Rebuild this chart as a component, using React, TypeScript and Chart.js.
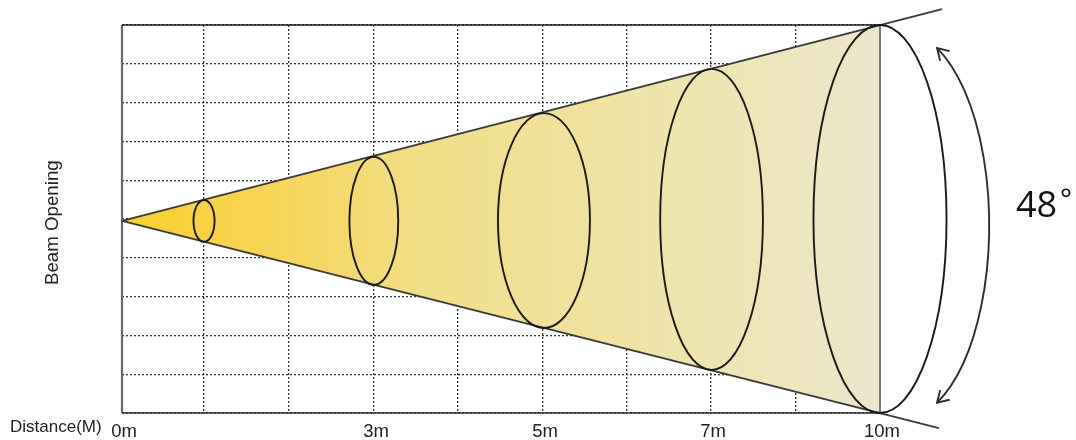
import React, { useEffect, useRef } from "react";
import { Chart, registerables } from "chart.js";

Chart.register(...registerables);

const tickLabels = ["0m", "", "", "3m", "", "5m", "", "7m", "", "10m"];
const tickValues = [0, 0.974, 1.983, 2.992, 3.99, 5, 5.996, 6.994, 8, 9];
const xRange = [0, 9];
const yRange = [-5, 5];

const apex = { x: 0, y: -0.05 };
const upperRayEnd = { x: 9.736, y: 5.41 };
const lowerRayEnd = { x: 9.7, y: -5.39 };
const coneEdgeTop = { x: 9, y: 5 };
const coneEdgeBottom = { x: 9, y: -5 };

const ringCentersX = [0.974, 2.99, 5.01, 7.0, 9];
const ringCentersY = [-0.05, -0.05, -0.04, -0.01, 0];
const ringHalfWidths = [0.125, 0.29, 0.546, 0.61, 0.79];
const ringHalfHeights = [0.54, 1.65, 2.77, 3.88, 5];

const sweepCenter = { x: 9.24, y: -0.165 };
const sweepRadii = { x: 1.057, y: 5.02 };
const sweepEndAngle = 1.144;

const angleValue = "48";
const angleUnit = "°";
const distanceTitle = "Distance(M)";
const openingTitle = "Beam Opening";

const annotations = {
  id: "annotations",
  afterDatasetsDraw(chart: any) {
    const { ctx, scales } = chart;
    const { x, y } = scales;
    const pxPerX = x.getPixelForValue(1) - x.getPixelForValue(0);
    const pxPerY = y.getPixelForValue(0) - y.getPixelForValue(1);
    ctx.save();

    ctx.strokeStyle = "#1a1a1a";
    ctx.lineWidth = 1.9;
    ringCentersX.forEach((cx, i) => {
      ctx.beginPath();
      ctx.ellipse(
        x.getPixelForValue(cx),
        y.getPixelForValue(ringCentersY[i]),
        ringHalfWidths[i] * pxPerX,
        ringHalfHeights[i] * pxPerY,
        0,
        0,
        Math.PI * 2
      );
      ctx.stroke();
    });

    const scx = x.getPixelForValue(sweepCenter.x);
    const scy = y.getPixelForValue(sweepCenter.y);
    const rx = sweepRadii.x * pxPerX;
    const ry = sweepRadii.y * pxPerY;
    ctx.strokeStyle = "#2e2e2e";
    ctx.lineWidth = 1.9;
    ctx.beginPath();
    ctx.ellipse(scx, scy, rx, ry, 0, -sweepEndAngle, sweepEndAngle);
    ctx.stroke();

    [-1, 1].forEach((side) => {
      const a = side * sweepEndAngle;
      const tx = scx + rx * Math.cos(a);
      const ty = scy + ry * Math.sin(a);
      const dir = Math.atan2(side * ry * Math.cos(a), -side * rx * Math.sin(a));
      const head = 13;
      const spread = 0.55;
      ctx.beginPath();
      ctx.moveTo(tx - head * Math.cos(dir - spread), ty - head * Math.sin(dir - spread));
      ctx.lineTo(tx, ty);
      ctx.lineTo(tx - head * Math.cos(dir + spread), ty - head * Math.sin(dir + spread));
      ctx.stroke();
    });

    ctx.fillStyle = "#222222";
    ctx.textAlign = "left";
    ctx.textBaseline = "alphabetic";
    ctx.font = '17px "Liberation Sans"';
    ctx.fillText(distanceTitle, 10, 432);

    ctx.save();
    ctx.translate(58, 285);
    ctx.rotate(-Math.PI / 2);
    ctx.font = '18.7px "Liberation Sans"';
    ctx.fillText(openingTitle, 0, 0);
    ctx.restore();

    ctx.fillStyle = "#111111";
    ctx.font = '36px "Open Sans"';
    ctx.fillText(angleValue, 1016, 217);
    ctx.font = '28px "Open Sans"';
    ctx.fillText(angleUnit, 1060, 209);
    ctx.restore();
  },
};

export default function App() {
  const ref = useRef<HTMLCanvasElement | null>(null);

  useEffect(() => {
    const line = (data: any[], color: string, width: number, order: number) => ({
      data,
      borderColor: color,
      borderWidth: width,
      pointRadius: 0,
      showLine: true,
      clip: false,
      fill: false,
      order,
    });
    const chart = new Chart(ref.current as HTMLCanvasElement, {
      type: "scatter",
      data: {
        datasets: [
          line([apex, upperRayEnd], "#3a3a3a", 1.9, 1),
          line([apex, lowerRayEnd], "#3a3a3a", 1.9, 1),
          line([coneEdgeTop, coneEdgeBottom], "#777777", 2, 2),
          line([{ x: xRange[0], y: yRange[1] }, { x: xRange[1], y: yRange[1] }], "#1f1f1f", 1.6, 3),
          line([{ x: xRange[0], y: yRange[0] }, { x: xRange[1], y: yRange[0] }], "#2a2a2a", 1.6, 3),
          line([{ x: xRange[0], y: yRange[0] }, { x: xRange[0], y: yRange[1] }], "#6a6a6a", 2.2, 3),
          {
            data: [apex, coneEdgeTop, coneEdgeBottom, apex],
            borderWidth: 0,
            pointRadius: 0,
            showLine: true,
            fill: "shape",
            order: 4,
            backgroundColor: (c: any) => {
              const { ctx, chartArea } = c.chart;
              if (!chartArea) return "#f1de88";
              const g = ctx.createLinearGradient(chartArea.left, 0, chartArea.right, 0);
              g.addColorStop(0, "#f9cf2b");
              g.addColorStop(0.2, "#f6d557");
              g.addColorStop(0.4, "#f1de88");
              g.addColorStop(0.6, "#efe29e");
              g.addColorStop(0.8, "#eee5b5");
              g.addColorStop(1, "#ece6cc");
              return g;
            },
          },
        ],
      } as any,
      options: {
        animation: false,
        responsive: false,
        layout: { padding: { left: 122, right: 196, top: 25, bottom: 0 } },
        plugins: { legend: { display: false }, tooltip: { enabled: false } },
        scales: {
          x: {
            type: "linear",
            min: xRange[0],
            max: xRange[1],
            afterBuildTicks: (s: any) => {
              s.ticks = tickValues.map((value) => ({ value }));
            },
            afterFit: (s: any) => {
              s.height = 27;
            },
            border: { display: false, dash: [2, 2] },
            grid: { color: "#333333", lineWidth: 1.3, drawTicks: false },
            ticks: {
              autoSkip: false,
              maxRotation: 0,
              padding: 8,
              labelOffset: 2,
              color: "#222222",
              font: { family: '"Liberation Sans"', size: 18.5 },
              callback: (_v: any, i: number) => tickLabels[i] ?? "",
            },
          },
          y: {
            type: "linear",
            min: yRange[0],
            max: yRange[1],
            afterFit: (s: any) => {
              s.width = 0;
            },
            border: { display: false, dash: [2, 2] },
            grid: { color: "#333333", lineWidth: 1.3, drawTicks: false },
            ticks: { stepSize: 1, display: false },
          },
        },
      } as any,
      plugins: [annotations],
    });
    return () => chart.destroy();
  }, []);

  return (
    <div style={{ position: "absolute", left: 0, top: 0, width: 1076, height: 440, background: "#ffffff" }}>
      <canvas ref={ref} width={1076} height={440} style={{ display: "block" }} />
    </div>
  );
}
